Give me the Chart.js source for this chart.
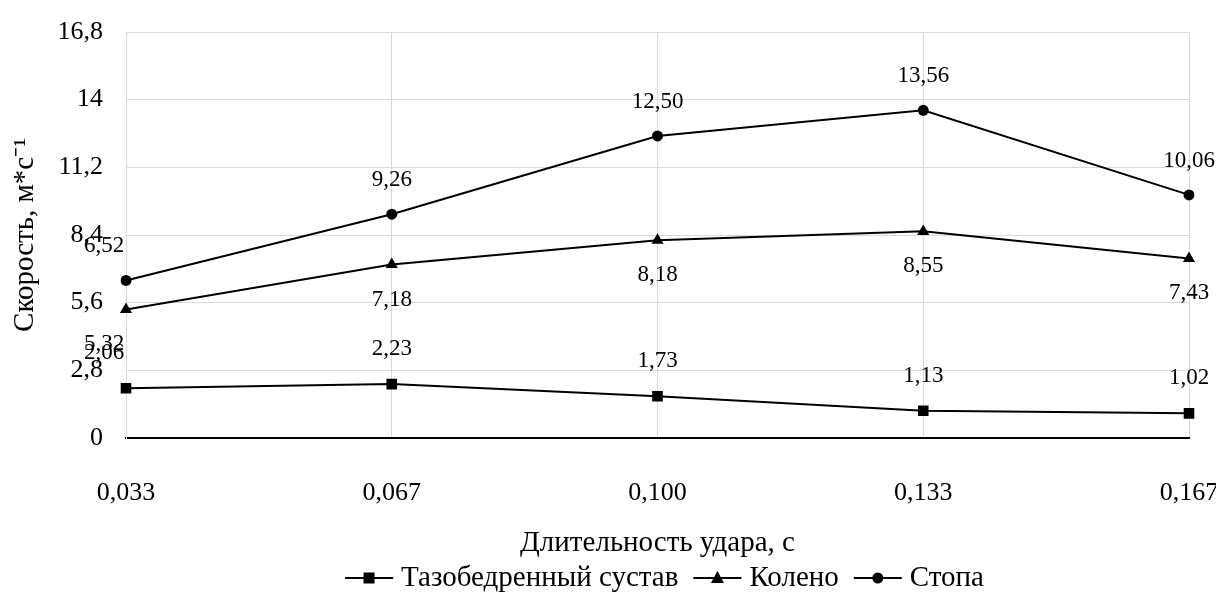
<!DOCTYPE html>
<html lang="ru">
<head>
    <meta charset="UTF-8">
    <title>Скорость</title>
    <script src="https://cdn.jsdelivr.net/npm/chart.js"></script>
    <style>
        body { margin: 0; background: #fff; }
        #wrap { width: 1216px; height: 599px; position: relative; }
    </style>
</head>
<body>
    <div id="wrap"><canvas id="speedChart"></canvas></div>
    <script>
        // values
        const categories = ['0,033', '0,067', '0,100', '0,133', '0,167'];
        const hipValues = [2.06, 2.23, 1.73, 1.13, 1.02];
        const kneeValues = [5.32, 7.18, 8.18, 8.55, 7.43];
        const footValues = [6.52, 9.26, 12.50, 13.56, 10.06];
        const yTicks = [0, 2.8, 5.6, 8.4, 11.2, 14, 16.8];

        const FONT = "'Liberation Serif', 'Times New Roman', serif";
        const comma = v => String(v).replace('.', ',');

        function drawMarker(g, style, x, y) {
            g.fillStyle = '#000';
            if (style === 'rect') g.fillRect(x - 5.5, y - 5.5, 11, 11);
            else if (style === 'triangle') {
                g.beginPath(); g.moveTo(x, y - 7); g.lineTo(x + 6.5, y + 5); g.lineTo(x - 6.5, y + 5); g.closePath(); g.fill();
            } else {
                g.beginPath(); g.arc(x, y, 5.5, 0, Math.PI * 2); g.fill();
            }
        }

        // value labels next to the points
        const valueLabels = {
            id: 'valueLabels',
            afterDatasetsDraw(chart) {
                const ctx = chart.ctx;
                ctx.save();
                ctx.font = '23px ' + FONT;
                ctx.fillStyle = '#000';
                ctx.textAlign = 'center';
                ctx.textBaseline = 'middle';
                chart.data.datasets.forEach((ds, i) => {
                    const meta = chart.getDatasetMeta(i);
                    meta.data.forEach((pt, j) => {
                        const dx = j === 0 ? -22 : 0;
                        ctx.fillText(ds.data[j].toFixed(2).replace('.', ','), pt.x + dx, pt.y + ds.labelShift);
                    });
                });
                ctx.restore();
            }
        };

        // legend row under the axis title: line with marker, then name
        const lineLegend = {
            id: 'lineLegend',
            afterDraw(chart) {
                const ctx = chart.ctx;
                const sets = chart.data.datasets;
                const iconW = 48, gapIn = 8, gapOut = 15, y = 578;
                ctx.save();
                ctx.font = '29px ' + FONT;
                let total = 0;
                sets.forEach((ds, i) => {
                    total += iconW + gapIn + ctx.measureText(ds.label).width + (i < sets.length - 1 ? gapOut : 0);
                });
                const mid = (chart.chartArea.left + chart.chartArea.right) / 2 + 7;
                let x = mid - total / 2;
                ctx.textBaseline = 'middle';
                ctx.textAlign = 'left';
                sets.forEach(ds => {
                    ctx.strokeStyle = '#000';
                    ctx.lineWidth = 2;
                    ctx.beginPath(); ctx.moveTo(x, y); ctx.lineTo(x + iconW, y); ctx.stroke();
                    drawMarker(ctx, ds.pointStyle, x + iconW / 2, y);
                    x += iconW + gapIn;
                    ctx.fillStyle = '#000';
                    ctx.fillText(ds.label, x, y);
                    x += ctx.measureText(ds.label).width + gapOut;
                });
                ctx.restore();
            }
        };

        const radius = { rect: 7.5, triangle: 7, circle: 5.5 };

        const line = (label, data, style, shift) => ({
            label: label,
            data: data,
            borderColor: '#000',
            backgroundColor: '#000',
            borderWidth: 2,
            pointStyle: style,
            pointRadius: radius[style],
            pointBorderWidth: 0,
            tension: 0,
            labelShift: shift
        });

        new Chart(document.getElementById('speedChart'), {
            type: 'line',
            data: {
                labels: categories,
                datasets: [
                    line('Тазобедренный сустав', hipValues, 'rect', -35),
                    line('Колено', kneeValues, 'triangle', 35),
                    line('Стопа', footValues, 'circle', -34)
                ]
            },
            options: {
                responsive: true,
                maintainAspectRatio: false,
                animation: false,
                layout: { padding: { top: 32, right: 27, bottom: 40, left: 0 } },
                plugins: {
                    tooltip: { enabled: false },
                    legend: { display: false }
                },
                scales: {
                    x: {
                        offset: false,
                        afterFit(scale) { scale.height = 121; scale.paddingLeft = 0; scale.paddingRight = 0; },
                        grid: { color: '#d9d9d9', drawTicks: false },
                        border: { color: '#000', width: 2 },
                        ticks: { color: '#000', padding: 40, font: { family: FONT, size: 26 } },
                        title: {
                            display: true,
                            text: 'Длительность удара, с',
                            color: '#000',
                            font: { family: FONT, size: 29 },
                            padding: { top: 10, bottom: -2 }
                        }
                    },
                    y: {
                        min: 0,
                        max: 16.8,
                        afterBuildTicks(scale) {
                            scale.ticks = yTicks.map(v => ({ value: v }));
                        },
                        afterFit(scale) { scale.width = 126; scale.paddingTop = 0; scale.paddingBottom = 0; },
                        grid: {
                            color: ctx => ctx.tick && ctx.tick.value === 0 ? 'rgba(0,0,0,0)' : '#d9d9d9',
                            drawTicks: false
                        },
                        border: { color: '#d9d9d9' },
                        ticks: {
                            color: '#000',
                            padding: 23,
                            font: { family: FONT, size: 26 },
                            callback: v => comma(v)
                        },
                        title: {
                            display: true,
                            text: 'Скорость, м*с⁻¹',
                            color: '#000',
                            font: { family: FONT, size: 29 },
                            padding: { top: 8, bottom: 0 }
                        }
                    }
                }
            },
            plugins: [valueLabels, lineLegend]
        });
    </script>
</body>
</html>
